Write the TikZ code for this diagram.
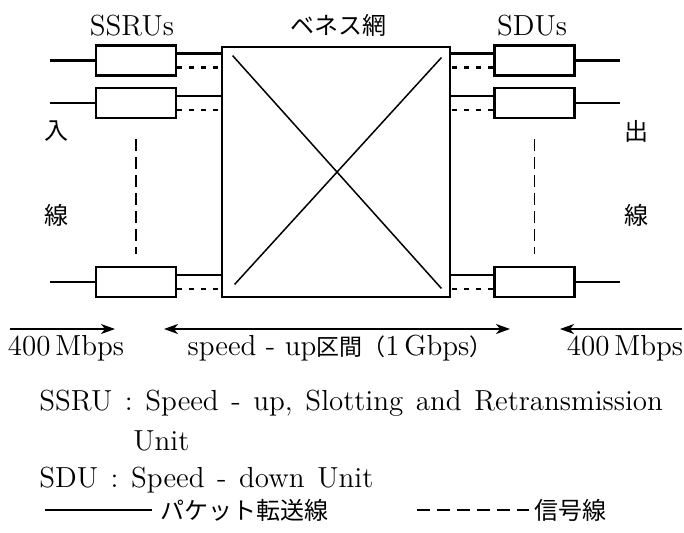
\documentclass[tikz,border=0pt]{standalone}
\usepackage{fontspec}
\newfontfamily\jpfont{Noto Sans CJK JP}
\usetikzlibrary{arrows.meta}
\newcommand\widespace{\spaceskip=6.3pt plus 1pt\relax}
\tikzset{
  unit/.style={draw, line width=1.3pt, minimum width=40pt, minimum height=15pt, inner sep=0pt},
  pkt/.style={line width=1.2pt},
  sig/.style={line width=1.2pt, dash pattern=on 2.5pt off 3.5pt},
  rate/.style={line width=0.8pt, -{Stealth[length=7pt,width=5pt,inset=2pt]}},
  lbl/.style={font=\fontsize{14.5}{17}\selectfont, inner sep=0pt},
  keytxt/.style={font=\fontsize{14.5}{17}\selectfont\widespace, inner sep=0pt, anchor=base west},
  jlbl/.style={font=\fontsize{12}{14}\selectfont\jpfont, inner sep=0pt},
}
\begin{document}
\begin{tikzpicture}[x=0.5pt,y=-0.5pt]
  \useasboundingbox (0,0) rectangle (684,532);
  \node[draw, line width=1.4pt, minimum width=114pt, minimum height=125pt, inner sep=0pt] (net) at (336,172) {};
  \draw[line width=0.75pt] ([shift={(6pt,-5pt)}]net.north west) -- ([shift={(-5pt,5pt)}]net.south east);
  \draw[line width=0.75pt] ([shift={(-5pt,-6pt)}]net.north east) -- ([shift={(7pt,7pt)}]net.south west);

  \foreach \n/\y in {1/60.5, 2/103, 3/282} {
    \node[unit] (ssru\n) at (136,\y) {};
    \node[unit] (sdu\n) at (534.5,\y) {};
    \coordinate (in\n) at (50,\y);
    \coordinate (out\n) at (620,\y);
    \draw[pkt] (in\n) -- (ssru\n.west);
    \draw[pkt] (sdu\n.east) -- (out\n);
    \coordinate (su\n) at ([yshift=3.5pt]ssru\n.east);
    \coordinate (ss\n) at ([yshift=-3.5pt]ssru\n.east);
    \coordinate (du\n) at ([yshift=3.5pt]sdu\n.west);
    \coordinate (ds\n) at ([yshift=-3.5pt]sdu\n.west);
    \draw[pkt] (su\n) -- (su\n -| net.west);
    \draw[sig] (ss\n) -- (ss\n -| net.west);
    \draw[pkt] (du\n) -- (du\n -| net.east);
    \draw[sig] (ds\n) -- (ds\n -| net.east);
  }
  \draw[line width=0.6pt, dash pattern=on 6pt off 3pt] ([yshift=-10pt]ssru2.south) -- ([yshift=6pt]ssru3.north);
  \draw[line width=0.6pt, dash pattern=on 6pt off 3pt] ([yshift=-10pt]sdu2.south) -- ([yshift=6pt]sdu3.north);

  \node[lbl, anchor=base] (ssrus) at (132,35) {SSRUs};
  \node[jlbl] (netname) at (338,25) {ベネス網};
  \node[lbl, anchor=base] (sdus) at (532,35) {SDUs};
  \node[jlbl] (iri) at (56,131) {入};
  \node[jlbl] (sen1) at (56,215) {線};
  \node[jlbl] (de) at (636,131) {出};
  \node[jlbl] (sen2) at (636,215) {線};

  % rates
  \coordinate (l1) at (10,329);
  \coordinate (l2) at (115,329);
  \coordinate (m1) at (164,329);
  \coordinate (m2) at (510,329);
  \coordinate (r1) at (682,329);
  \coordinate (r2) at (560,329);
  \draw[rate] (l1) -- (l2);
  \draw[rate, {Stealth[length=7pt,width=5pt,inset=2pt]}-{Stealth[length=7pt,width=5pt,inset=2pt]}] (m1) -- (m2);
  \draw[rate] (r1) -- (r2);
  \node[lbl, anchor=base] (inrate) at (66,355) {400\,Mbps};
  \node[lbl, anchor=base] (uprate) at (340,355) {speed - up{\jpfont\fontsize{11.5}{14}\selectfont 区間（}1\,Gbps{\jpfont\fontsize{11.5}{14}\selectfont ）}};
  \node[lbl, anchor=base] (outrate) at (625,355) {400\,Mbps};

  \node[keytxt] (key1) at (39,410) {SSRU : Speed - up, Slotting and Retransmission};
  \node[keytxt] (key2) at (133,450) {Unit};
  \node[keytxt] (key3) at (39,487) {SDU : Speed - down Unit};

  % legend
  \coordinate (a1) at (45,510);
  \coordinate (a2) at (152,510);
  \coordinate (b1) at (417,510);
  \coordinate (b2) at (529,510);
  \draw[line width=0.8pt] (a1) -- (a2);
  \draw[line width=0.8pt, dash pattern=on 6.5pt off 3.5pt] (b1) -- (b2);
  \node[jlbl, anchor=west] (pkttxt) at (160,510) {パケット転送線};
  \node[jlbl, anchor=west] (sigtxt) at (534,510) {信号線};
\end{tikzpicture}
\end{document}
